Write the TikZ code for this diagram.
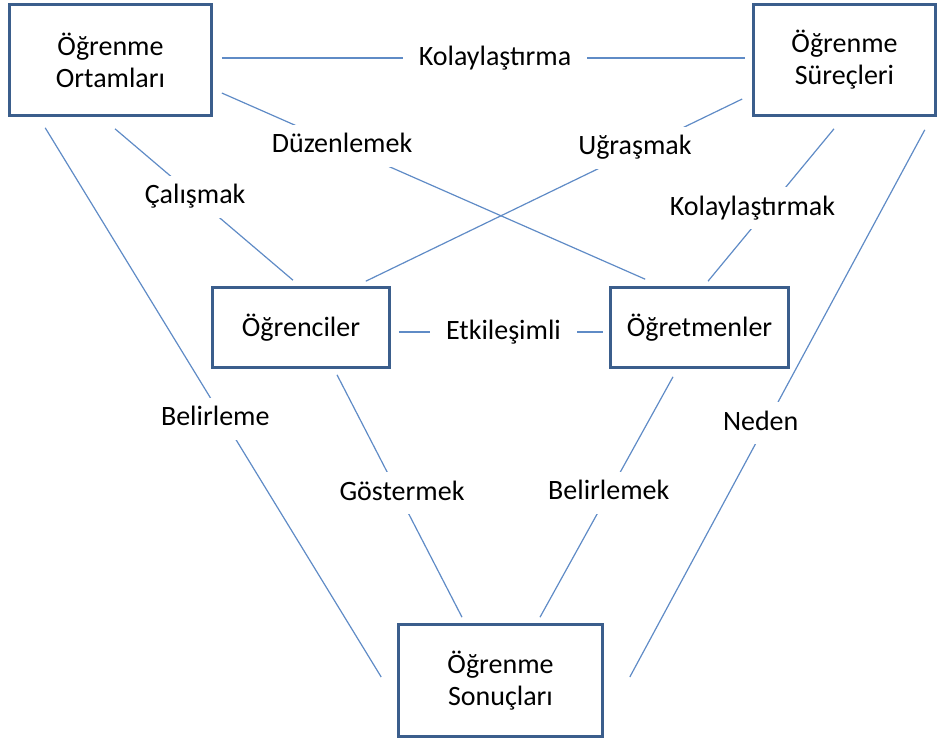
\documentclass[tikz,border=0pt]{standalone}
\usepackage{fontspec}
\setmainfont{Carlito}
\definecolor{boxblue}{HTML}{3B5E8C}
\definecolor{lineblue}{HTML}{5F8BC6}

\begin{document}
\begin{tikzpicture}[x=1pt,y=-1pt,
    kutu/.style={draw=boxblue,line width=2.6pt,align=center,font=\fontsize{28}{32}\selectfont},
    bag/.style={draw=lineblue,line width=1.2pt},
    etiket/.style={fill=white,inner xsep=16pt,inner ysep=8pt,text height=20pt,text depth=6pt,font=\fontsize{28}{32}\selectfont}]
   \useasboundingbox (0,0) rectangle (939,740);
   \node[kutu,minimum width=202pt,minimum height=111pt] (ortam)    at (110.5,60)  {Öğrenme\\Ortamları};
   \node[kutu,minimum width=182pt,minimum height=111pt] (surec)    at (844.5,60)  {Öğrenme\\Süreçleri};
   \node[kutu,minimum width=177pt,minimum height=80pt]  (ogrenci)  at (301,327.5) {Öğrenciler};
   \node[kutu,minimum width=178pt,minimum height=80pt]  (ogretmen) at (699.5,327.5) {Öğretmenler};
   \node[kutu,minimum width=204pt,minimum height=112pt] (sonuc)    at (500.5,680.5) {Öğrenme\\Sonuçları};
    \path[bag]
    ([shift={(9,-2)}]ortam.east) edge node[etiket,pos=.522] {Kolaylaştırma} ([shift={(-7,-2)}]surec.west)
    ([shift={(9,33)}]ortam.east) edge node[etiket,pos=.284] {Düzenlemek} ([shift={(36,-7)}]ogretmen.north west)
    ([shift={(-10,39)}]surec.west) edge node[etiket,pos=.285,yshift=3pt] {Uğraşmak} ([shift={(-25,-5)}]ogrenci.north east)
    ([shift={(4.5,12)}]ortam.south) edge node[etiket,pos=.45] {Çalışmak} ([shift={(-8,-6)}]ogrenci.north)
    ([shift={(-10.5,12)}]surec.south) edge node[etiket,pos=.52,xshift=-16pt] {Kolaylaştırmak} ([shift={(8.5,-5)}]ogretmen.north)
    ([shift={(8,4.5)}]ogrenci.east) edge node[etiket,pos=.512] {Etkileşimli} ([shift={(-6,4.5)}]ogretmen.west)
    ([shift={(37,11)}]ortam.south west) edge node[etiket,pos=.53,xshift=-8pt] {Belirleme} ([shift={(-16,-3.5)}]sonuc.west)
    ([shift={(-12,13)}]surec.south east) edge node[etiket,pos=.536,xshift=-6pt] {Neden} ([shift={(26,-3.5)}]sonuc.east)
    ([shift={(36,6)}]ogrenci.south) edge node[etiket,pos=.488,xshift=4pt] {Göstermek} ([shift={(-38.5,-6)}]sonuc.north)
    ([shift={(-26.5,8)}]ogretmen.south) edge node[etiket,pos=.483] {Belirlemek} ([shift={(39.5,-6)}]sonuc.north);
\end{tikzpicture}
\end{document}
